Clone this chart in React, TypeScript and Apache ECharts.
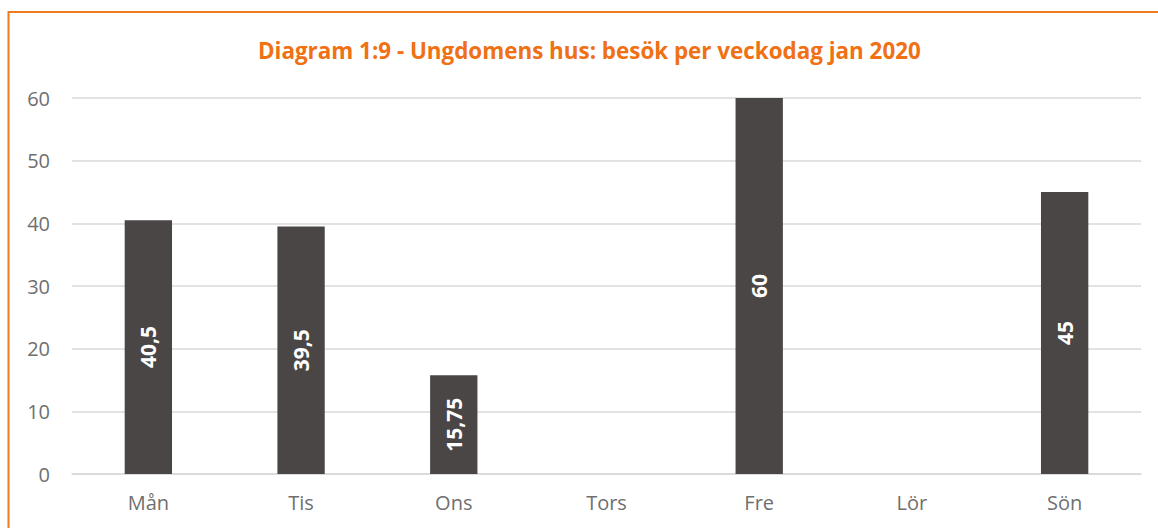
import React, { useEffect, useRef } from "react";
import * as echarts from "echarts";

const categories = ["Mån", "Tis", "Ons", "Tors", "Fre", "Lör", "Sön"];
const visits: (number | null)[] = [40.5, 39.5, 15.75, null, 60, null, 45];
const titleText = "Diagram 1:9 - Ungdomens hus: besök per veckodag jan 2020";

const FONT = "'Open Sans', Lato, sans-serif";

export default function App() {
  const ref = useRef<HTMLDivElement>(null);
  useEffect(() => {
    if (!ref.current) return;
    const chart = echarts.init(ref.current, undefined, { renderer: "svg" });
    chart.setOption({
      animation: false,
      backgroundColor: "#ffffff",
      title: {
        text: titleText,
        left: 253,
        top: 34,
        textStyle: {
          color: "#F07014",
          fontFamily: FONT,
          fontWeight: "bold",
          fontSize: 22.4,
        },
      },
      graphic: [
        {
          type: "rect",
          shape: { x: 8.5, y: 12, width: 1170, height: 540 },
          style: { fill: "none", stroke: "#F07A1E", lineWidth: 2 },
          silent: true,
        },
      ],
      grid: { left: 72, right: 17, top: 98, bottom: 54 },
      xAxis: {
        type: "category",
        data: categories,
        axisLine: { lineStyle: { color: "#D9D9D9", width: 1.5 } },
        axisTick: { show: false },
        axisLabel: {
          color: "#6F6F6F",
          fontSize: 20,
          fontFamily: FONT,
          margin: 18,
        },
      },
      yAxis: {
        type: "value",
        min: 0,
        max: 60,
        interval: 10,
        axisLine: { show: false },
        axisTick: { show: false },
        splitLine: { lineStyle: { color: "#D9D9D9", width: 1.5 } },
        axisLabel: {
          color: "#6F6F6F",
          fontSize: 20,
          fontFamily: FONT,
          margin: 22,
        },
      },
      series: [
        {
          type: "bar",
          data: visits,
          barWidth: "31%",
          itemStyle: { color: "#4A4646" },
          label: {
            show: true,
            position: "inside",
            rotate: 90,
            color: "#ffffff",
            fontWeight: "bold",
            fontSize: 21,
            fontFamily: FONT,
            formatter: (p: any) => String(p.value).replace(".", ","),
          },
        },
      ],
    });
    return () => chart.dispose();
  }, []);
  return (
    <div
      ref={ref}
      style={{ position: "fixed", left: 0, top: 0, width: 1158, height: 528 }}
    />
  );
}
